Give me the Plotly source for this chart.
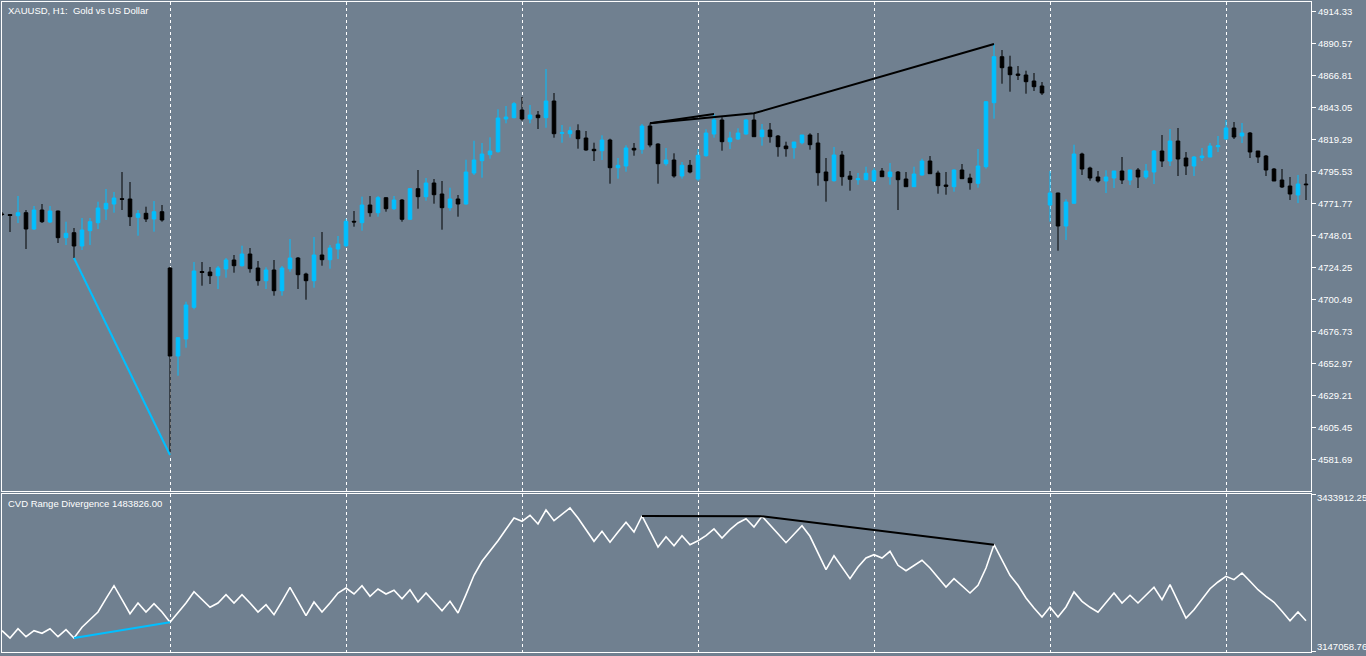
import plotly.graph_objects as go

# ---------------- data ----------------
opens = [
    4763.82, 4763.45, 4762.56, 4764.79, 4752.69, 4766.79, 4757.88, 4766.05, 4746.23, 4749.94,
    4740.06, 4751.43, 4757.37, 4767.54, 4771.25, 4775.18, 4774.96, 4761.37, 4764.34, 4760.11,
    4765.53, 4723.73, 4658.39, 4671.01, 4694.55, 4721.13, 4720.76, 4718.01, 4722.99, 4729.67,
    4725.44, 4734.12, 4723.73, 4714.30, 4722.24, 4706.88, 4723.21, 4731.15, 4719.27, 4714.30,
    4733.38, 4729.89, 4737.84, 4740.29, 4758.40, 4757.37, 4770.51, 4764.79, 4775.93, 4767.76,
    4774.22, 4759.89, 4782.61, 4776.67, 4786.84, 4778.67, 4768.50, 4774.96, 4771.25, 4794.27,
    4803.40, 4807.86, 4810.08, 4834.36, 4835.33, 4841.04, 4834.36, 4837.33, 4835.33, 4847.73,
    4823.74, 4823.45, 4825.68, 4820.25, 4811.86, 4810.82, 4818.77, 4798.20, 4799.46, 4812.61,
    4811.86, 4829.16, 4815.80, 4801.17, 4803.92, 4792.04, 4799.98, 4789.81, 4807.11, 4823.22,
    4833.62, 4817.51, 4819.51, 4823.22, 4833.62, 4821.22, 4826.19, 4821.74, 4814.31, 4813.05,
    4816.77, 4822.48, 4816.54, 4795.01, 4788.55, 4807.63, 4792.04, 4789.29, 4789.29, 4788.33,
    4795.75, 4791.52, 4795.01, 4789.81, 4784.10, 4792.78, 4803.18, 4794.27, 4785.36, 4784.10,
    4796.49, 4790.55, 4786.62, 4798.95, 4846.47, 4880.62, 4872.97, 4867.77, 4867.03, 4862.58,
    4858.86, 4770.51, 4779.42, 4754.91, 4771.77, 4808.37, 4797.98, 4791.30, 4788.33, 4790.55,
    4795.75, 4789.07, 4796.49, 4791.30, 4795.01, 4810.60, 4803.18, 4818.03, 4805.40, 4799.46,
    4805.63, 4806.15, 4813.80, 4819.51, 4827.68, 4821.74, 4823.97, 4810.60, 4806.89, 4797.24,
    4789.07, 4784.61, 4777.93, 4786.10,
]
highs = [
    4765.31, 4763.82, 4777.19, 4766.79, 4769.76, 4771.25, 4769.76, 4766.30, 4758.11, 4753.43,
    4760.85, 4760.85, 4772.96, 4782.39, 4780.16, 4795.01, 4787.58, 4766.79, 4769.25, 4773.48,
    4770.51, 4724.47, 4672.50, 4698.71, 4728.18, 4728.18, 4724.47, 4725.21, 4731.15, 4733.38,
    4740.29, 4738.58, 4728.93, 4724.25, 4729.67, 4725.21, 4745.26, 4731.90, 4720.24, 4746.75,
    4750.46, 4740.81, 4747.49, 4760.34, 4766.05, 4776.67, 4777.19, 4777.19, 4776.20, 4777.19,
    4774.96, 4783.13, 4796.49, 4790.55, 4789.81, 4788.33, 4783.35, 4777.93, 4804.14, 4818.25,
    4816.54, 4820.77, 4841.56, 4844.01, 4846.98, 4850.70, 4844.76, 4840.30, 4871.49, 4853.67,
    4829.91, 4828.65, 4830.43, 4825.45, 4816.77, 4822.26, 4819.74, 4805.40, 4814.83, 4816.54,
    4830.65, 4831.17, 4816.32, 4812.83, 4808.89, 4802.43, 4803.92, 4812.09, 4826.72, 4838.07,
    4835.62, 4824.93, 4827.46, 4834.14, 4838.59, 4830.65, 4831.39, 4822.48, 4817.51, 4817.28,
    4822.48, 4823.74, 4823.97, 4805.40, 4813.57, 4810.60, 4795.75, 4794.27, 4798.95, 4797.76,
    4797.98, 4801.69, 4795.75, 4795.01, 4798.95, 4804.88, 4806.89, 4795.98, 4795.01, 4797.01,
    4800.95, 4793.75, 4812.09, 4847.73, 4890.05, 4885.59, 4881.36, 4873.71, 4870.23, 4868.52,
    4861.83, 4795.75, 4779.60, 4774.74, 4815.28, 4809.34, 4798.95, 4795.75, 4796.27, 4795.75,
    4806.15, 4796.49, 4797.98, 4800.95, 4811.34, 4822.48, 4826.94, 4827.68, 4809.86, 4806.89,
    4812.83, 4816.54, 4821.74, 4833.62, 4832.13, 4831.39, 4824.71, 4810.60, 4807.63, 4797.98,
    4797.24, 4791.30, 4792.78, 4793.52,
]
lows = [
    4762.34, 4750.46, 4757.14, 4737.84, 4751.94, 4757.14, 4757.14, 4742.29, 4740.81, 4731.15,
    4737.09, 4740.81, 4752.69, 4759.37, 4764.79, 4766.79, 4754.91, 4747.71, 4757.88, 4750.68,
    4758.11, 4584.88, 4643.76, 4664.55, 4693.06, 4710.59, 4711.85, 4708.14, 4716.53, 4720.24,
    4724.70, 4720.24, 4710.59, 4708.14, 4703.16, 4703.16, 4720.98, 4708.14, 4700.19, 4709.10,
    4725.44, 4723.21, 4730.41, 4739.32, 4754.40, 4751.43, 4761.82, 4761.82, 4765.53, 4766.79,
    4758.11, 4759.37, 4767.76, 4773.70, 4771.47, 4752.17, 4766.28, 4761.82, 4770.73, 4792.78,
    4790.78, 4804.88, 4809.34, 4831.17, 4834.88, 4833.10, 4831.17, 4826.94, 4827.90, 4820.48,
    4816.77, 4820.48, 4812.31, 4810.82, 4803.18, 4803.92, 4786.32, 4790.04, 4795.23, 4807.11,
    4808.60, 4813.35, 4786.32, 4799.69, 4790.78, 4790.04, 4794.04, 4788.55, 4806.37, 4820.48,
    4810.82, 4812.09, 4818.77, 4822.71, 4821.22, 4814.54, 4816.77, 4806.37, 4806.37, 4804.88,
    4815.58, 4811.57, 4784.84, 4772.96, 4787.81, 4784.84, 4781.13, 4785.58, 4789.07, 4787.81,
    4791.52, 4785.58, 4766.79, 4784.10, 4784.10, 4792.26, 4793.75, 4778.90, 4778.15, 4780.38,
    4790.04, 4781.87, 4783.35, 4797.46, 4834.59, 4860.57, 4854.63, 4863.32, 4853.15, 4855.15,
    4852.18, 4758.11, 4736.58, 4744.52, 4771.77, 4792.78, 4788.55, 4787.07, 4779.42, 4783.13,
    4786.10, 4785.36, 4783.13, 4789.81, 4786.10, 4798.72, 4799.46, 4792.04, 4792.78, 4792.04,
    4803.18, 4806.15, 4809.86, 4819.51, 4819.51, 4816.54, 4805.40, 4801.69, 4792.04, 4788.33,
    4783.13, 4774.22, 4771.99, 4774.22,
]
closes = [
    4763.45, 4762.71, 4764.79, 4752.69, 4766.79, 4758.11, 4766.05, 4746.23, 4749.49, 4740.06,
    4751.94, 4758.11, 4768.28, 4771.77, 4775.70, 4774.74, 4761.82, 4764.05, 4760.11, 4765.53,
    4759.37, 4658.39, 4671.98, 4696.26, 4721.50, 4720.39, 4718.01, 4723.73, 4729.67, 4725.44,
    4734.12, 4723.21, 4714.30, 4722.24, 4706.88, 4723.73, 4731.15, 4718.76, 4714.30, 4733.38,
    4729.89, 4738.58, 4741.55, 4758.40, 4757.88, 4770.51, 4764.79, 4775.93, 4767.76, 4774.22,
    4759.89, 4782.61, 4776.67, 4786.84, 4778.15, 4768.50, 4774.96, 4771.25, 4795.01, 4803.92,
    4808.37, 4810.60, 4835.10, 4835.85, 4845.72, 4834.36, 4837.33, 4835.33, 4847.73, 4823.45,
    4824.19, 4825.68, 4819.74, 4811.34, 4810.82, 4818.77, 4798.20, 4799.98, 4812.83, 4811.34,
    4829.16, 4815.06, 4801.17, 4803.92, 4792.04, 4799.98, 4795.01, 4807.41, 4823.97, 4833.62,
    4817.51, 4820.25, 4823.97, 4833.62, 4821.22, 4826.19, 4821.22, 4813.80, 4812.31, 4817.28,
    4822.48, 4815.28, 4794.49, 4788.55, 4807.63, 4791.52, 4789.59, 4790.04, 4794.04, 4795.98,
    4791.52, 4795.01, 4789.29, 4784.10, 4793.52, 4803.18, 4793.75, 4784.84, 4784.39, 4796.49,
    4790.04, 4787.07, 4799.46, 4847.21, 4880.62, 4872.45, 4867.26, 4866.81, 4862.06, 4858.35,
    4853.67, 4779.42, 4754.91, 4772.73, 4808.37, 4797.24, 4790.55, 4788.33, 4791.30, 4795.75,
    4789.07, 4796.49, 4791.30, 4795.75, 4810.60, 4803.18, 4818.03, 4804.66, 4799.46, 4806.15,
    4806.89, 4814.31, 4814.54, 4827.68, 4821.00, 4823.97, 4809.86, 4806.15, 4796.49, 4788.33,
    4783.87, 4778.67, 4786.10, 4785.58,
]
cvd = [
    3185975, 3172637, 3189629, 3175012, 3185975, 3181225, 3189629, 3175012, 3187802, 3172637,
    3192187, 3206073, 3220142, 3244442, 3268195, 3242615, 3217036, 3236586, 3220142, 3235307,
    3220142, 3201323, 3218315, 3236586, 3257232, 3242615, 3228729, 3236586, 3251751, 3236586,
    3251751, 3236586, 3220142, 3233480, 3215209, 3239692, 3265271, 3239692, 3213382, 3238413,
    3220142, 3236586, 3254857, 3263992, 3253030, 3268195, 3248827, 3262165, 3253030, 3259790,
    3244442, 3260886, 3238413, 3254857, 3238413, 3222517, 3239692, 3218315, 3251751, 3287196,
    3312776, 3331047, 3350414, 3371243, 3391889, 3385860, 3396822, 3380927, 3406506, 3386956,
    3397919, 3410160, 3391889, 3370512, 3349318, 3367589, 3347491, 3366310, 3384033, 3366310,
    3395543, 3367223, 3338903, 3357722, 3341279, 3359550, 3343106, 3350414, 3359550, 3371791,
    3355347, 3370512, 3382754, 3390610, 3375445, 3394995, 3379648, 3363204, 3346760, 3362656,
    3377821, 3358453, 3329220, 3297428, 3323008, 3302361, 3280984, 3302361, 3318805, 3324835,
    3318805, 3331047, 3305467, 3295601, 3305467, 3314603, 3300534, 3283542, 3265819, 3280984,
    3267098, 3254857, 3268925, 3300534, 3343106, 3315699, 3287196, 3268925, 3245721, 3227450,
    3211006, 3229277, 3211006, 3229277, 3256684, 3239692, 3228729, 3219594, 3236586, 3254857,
    3236586, 3250654, 3236586, 3250654, 3265271, 3242615, 3270022, 3239692, 3209179, 3224344,
    3242615, 3262713, 3274955, 3285369, 3279157, 3291399, 3276234, 3260886, 3248827, 3237865,
    3221421, 3204246, 3220142, 3204246,
]
bars = list(range(len(opens)))

price_ticks = [4914.33, 4890.57, 4866.81, 4843.05, 4819.29, 4795.53, 4771.77, 4748.01,
               4724.25, 4700.49, 4676.73, 4652.97, 4629.21, 4605.45, 4581.69]
cvd_ticks = [3433912.25, 3147058.76]
grid_bars = [21, 43, 65, 87, 109, 131, 153]

# divergence anchor bars
bull_div_price = [9, 21]
bear_div_price = [81, 94, 124]
bear_div_price_short = [81, 89]
bull_div_cvd = [9, 21]
bear_div_cvd = [80, 95, 124]

title_text = "XAUUSD, H1:  Gold vs US Dollar"
ind_text = "CVD Range Divergence 1483826.00"

# ---------------- styles ----------------
BG = "#708090"
BULL = "#00BFFF"
BEAR = "#000000"
WHITE = "#FFFFFF"
FONT = "Liberation Sans"

fig = go.Figure()

fig.add_trace(go.Candlestick(
    x=bars, open=opens, high=highs, low=lows, close=closes,
    xaxis="x", yaxis="y",
    increasing=dict(line=dict(color=BULL, width=1), fillcolor=BULL),
    decreasing=dict(line=dict(color=BEAR, width=1), fillcolor=BEAR),
    whiskerwidth=0, showlegend=False, hoverinfo="skip",
))

fig.add_trace(go.Scatter(
    x=bull_div_price, y=[lows[i] for i in bull_div_price], mode="lines",
    line=dict(color=BULL, width=2), xaxis="x", yaxis="y", hoverinfo="skip"))
fig.add_trace(go.Scatter(
    x=bear_div_price_short, y=[highs[i] for i in bear_div_price_short], mode="lines",
    line=dict(color=BEAR, width=2), xaxis="x", yaxis="y", hoverinfo="skip"))
fig.add_trace(go.Scatter(
    x=bear_div_price, y=[highs[i] for i in bear_div_price], mode="lines",
    line=dict(color=BEAR, width=2), xaxis="x", yaxis="y", hoverinfo="skip"))

fig.add_trace(go.Scatter(
    x=bars, y=cvd, mode="lines", line=dict(color=WHITE, width=1.6),
    xaxis="x2", yaxis="y2", hoverinfo="skip"))
fig.add_trace(go.Scatter(
    x=bull_div_cvd, y=[cvd[i] for i in bull_div_cvd], mode="lines",
    line=dict(color=BULL, width=2), xaxis="x2", yaxis="y2", hoverinfo="skip"))
fig.add_trace(go.Scatter(
    x=bear_div_cvd, y=[cvd[i] for i in bear_div_cvd], mode="lines",
    line=dict(color=BEAR, width=2), xaxis="x2", yaxis="y2", hoverinfo="skip"))

xcommon = dict(
    range=[0, 163.625], tickvals=grid_bars, showticklabels=False, ticks="",
    showgrid=True, gridcolor=WHITE, griddash="3px,3px", gridwidth=1,
    showline=True, linecolor=WHITE, linewidth=1, mirror=True, zeroline=False,
    fixedrange=True,
)

fig.update_layout(
    width=1366, height=656,
    margin=dict(l=2, r=55, t=2, b=4),
    paper_bgcolor=BG, plot_bgcolor=BG,
    showlegend=False,
    boxgap=0.36,
    font=dict(family=FONT, color=WHITE, size=10),
    xaxis=dict(domain=[0, 1], anchor="y", rangeslider=dict(visible=False), **xcommon),
    xaxis2=dict(domain=[0, 1], anchor="y2", matches="x", **xcommon),
    yaxis=dict(
        domain=[0.2477, 1], anchor="x", side="right", range=[4558.15, 4921.24],
        tickvals=price_ticks, ticktext=[f"{v:.2f}" for v in price_ticks],
        ticks="outside", ticklen=4, tickcolor=WHITE,
        tickfont=dict(family=FONT, color=WHITE, size=9.5),
        showgrid=False, showline=True, linecolor=WHITE, linewidth=1, mirror=True,
        zeroline=False, fixedrange=True,
    ),
    yaxis2=dict(
        domain=[0, 0.2431], anchor="x2", side="right", range=[3147058.76, 3435739],
        tickvals=cvd_ticks, ticktext=["", ""],
        ticks="outside", ticklen=4, tickcolor=WHITE,
        showgrid=False, showline=True, linecolor=WHITE, linewidth=1, mirror=True,
        zeroline=False, fixedrange=True,
    ),
    annotations=[
        dict(text=title_text, xref="paper", yref="paper", x=0.003, y=1,
             xanchor="left", yanchor="top", yshift=-1, showarrow=False,
             font=dict(family=FONT, size=9.5, color=WHITE)),
        dict(text=ind_text, xref="paper", yref="paper", x=0.003, y=0.2431,
             xanchor="left", yanchor="top", yshift=-2, showarrow=False,
             font=dict(family=FONT, size=9.5, color=WHITE)),
        dict(text=f"{cvd_ticks[0]:.2f}", xref="paper", yref="y2", x=1, y=cvd_ticks[0],
             xanchor="left", yanchor="middle", xshift=4, yshift=-3, showarrow=False,
             font=dict(family=FONT, size=9.5, color=WHITE)),
        dict(text=f"{cvd_ticks[1]:.2f}", xref="paper", yref="y2", x=1, y=cvd_ticks[1],
             xanchor="left", yanchor="middle", xshift=4, yshift=5, showarrow=False,
             font=dict(family=FONT, size=9.5, color=WHITE)),
    ],
)

fig.write_html(
    "out.html",
    config={"displayModeBar": False, "staticPlot": True},
    post_script="document.body.style.margin='0';document.body.style.overflow='hidden';",
)
